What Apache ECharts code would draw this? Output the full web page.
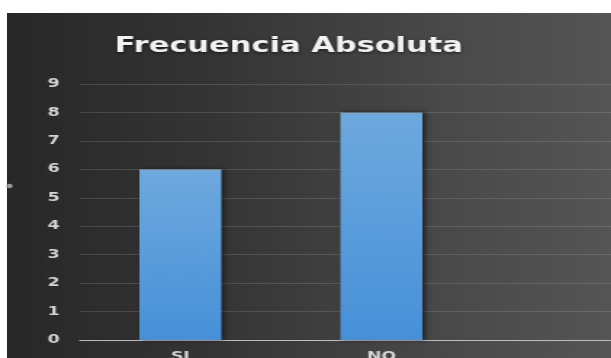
<!DOCTYPE html>
<html>
<head>
<meta charset="utf-8">
<script src="https://cdn.jsdelivr.net/npm/echarts@6/dist/echarts.min.js"></script>
<style>
  html, body { margin: 0; padding: 0; background: #ffffff; width: 611px; height: 358px; overflow: hidden; }
  #bg { position: absolute; left: 7px; top: 13px; right: 0; bottom: 0;
        background: linear-gradient(90deg, #272727 0%, #353535 35%, #4a4a4a 75%, #555555 100%); }
  /* chart is laid out narrow and widened horizontally, giving the broad lettering */
  #chart { position: absolute; left: 0; top: 0; width: 421px; height: 358px;
           transform: scaleX(1.4513); transform-origin: 0 0; }
</style>
</head>
<body>
<div id="bg"></div>
<div id="chart"></div>
<script>
const categories = ['SI', 'NO', ''];
const frecuencia = [6, 8, null];
const yTicks = { min: 0, max: 9, interval: 1 };
const titleText = 'Frecuencia Absoluta';

const labelColor = '#d4d4d4';
const chart = echarts.init(document.getElementById('chart'), null, { renderer: 'canvas' });

chart.setOption({
  backgroundColor: 'transparent',
  animation: false,
  title: {
    text: titleText,
    left: 199,
    top: 36,
    textAlign: 'center',
    padding: 0,
    textStyle: {
      fontFamily: 'DejaVu Sans',
      fontWeight: 'bold',
      fontSize: 21,
      color: '#f2f2f2',
      textShadowColor: 'rgba(0,0,0,0.6)',
      textShadowBlur: 3,
      textShadowOffsetY: 1
    }
  },
  graphic: [{
    type: 'circle',
    shape: { cx: 6.5, cy: 186, r: 2.2 },
    style: { fill: '#9a9a9a' }
  }],
  // the third, empty category runs past the right edge
  grid: {
    left: 55, width: 415.5, top: 84, bottom: 18,
    containLabel: false,
    outerBoundsMode: 'none'
  },
  xAxis: {
    type: 'category',
    data: categories,
    axisLine: { lineStyle: { color: '#bdbdbd', width: 1 } },
    axisTick: { show: false },
    axisLabel: {
      color: labelColor,
      fontFamily: 'DejaVu Sans',
      fontWeight: 'bold',
      fontSize: 12,
      margin: 11
    }
  },
  yAxis: {
    type: 'value',
    min: yTicks.min,
    max: yTicks.max,
    interval: yTicks.interval,
    axisLine: { show: false },
    axisTick: { show: false },
    splitLine: { lineStyle: { color: 'rgba(255,255,255,0.13)', width: 1 } },
    axisLabel: {
      color: labelColor,
      fontFamily: 'DejaVu Sans',
      fontWeight: 'bold',
      fontSize: 12,
      margin: 14
    }
  },
  series: [{
    type: 'bar',
    data: frecuencia,
    barWidth: 56.5,
    itemStyle: {
      color: new echarts.graphic.LinearGradient(0, 0, 0, 1, [
        { offset: 0, color: '#6ea9de' },
        { offset: 1, color: '#4790d8' }
      ]),
      shadowColor: 'rgba(0,0,0,0.55)',
      shadowBlur: 4,
      shadowOffsetX: 1.5
    }
  }]
});
</script>
</body>
</html>
